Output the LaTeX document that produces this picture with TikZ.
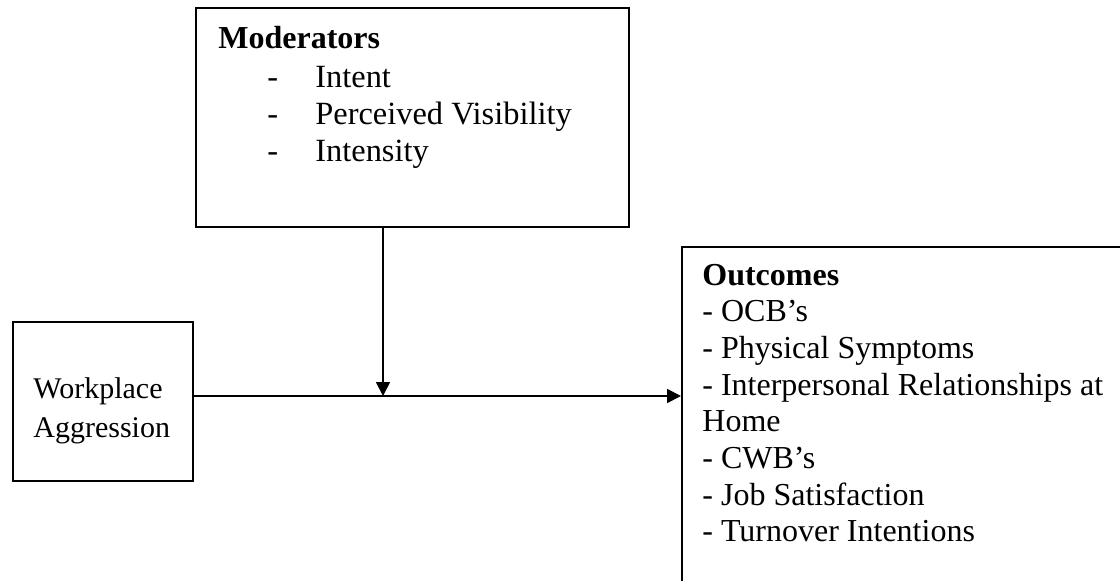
\documentclass[tikz,border=0pt]{standalone}
\usepackage{fontspec}
\setmainfont{Liberation Serif}
\usetikzlibrary{arrows.meta,positioning}

\begin{document}
\begin{tikzpicture}[
    x=0.5pt, y=-0.5pt,
    box/.style={draw, line width=0.9pt, inner sep=0pt},
    txt/.style={anchor=base west, inner sep=0pt, font=\fontsize{16}{18.3}\selectfont},
    title/.style={txt, font=\bfseries\fontsize{16}{18.3}\selectfont},
    item/.style={anchor=base west, inner sep=0pt, font=\fontsize{16.2}{19}\selectfont},
    arr/.style={-{Triangle[length=7pt,width=7pt]}, line width=0.9pt}
  ]
  \useasboundingbox (0,0) rectangle (1120,580);
  % boxes
  \node[box, minimum width=216.5pt, minimum height=109.5pt] (mods) at (412.5,117.5) {};
  \node[box, minimum width=90pt, minimum height=79.5pt] (wa) at (103,401.5) {};
  \node[box, minimum width=224.5pt, minimum height=177pt, anchor=north west] (outc) at (681,246) {};
  % moderators
  \node[title] (modtitle) at (218,48) {Moderators};
  \foreach \t [count=\i] in {Intent, Perceived Visibility, Intensity} {
    \node[item] (dash\i) at (267,50+37*\i) {-};
    \node[item] (mod\i) at (315,50+37*\i) {\t};
  }
  % predictor
  \node[txt, align=left, font=\fontsize{15}{19.5}\selectfont] (walabel) at (33,437) {Workplace\\Aggression};
  % outcomes
  \node[title] (outtitle) at (702,285) {Outcomes};
  \foreach \t [count=\i] in {- OCB’s, - Physical Symptoms, - Interpersonal Relationships at, Home, - CWB’s, - Job Satisfaction, - Turnover Intentions} {
    \node[txt] (out\i) at (702,285+36.67*\i) {\t};
  }
  % arrows
  \coordinate (mid) at (383,396);
  \draw[arr] (wa.east |- mid) -- (outc.west |- mid);
  \draw[arr] (mods.south -| mid) -- (mid);
\end{tikzpicture}
\end{document}
